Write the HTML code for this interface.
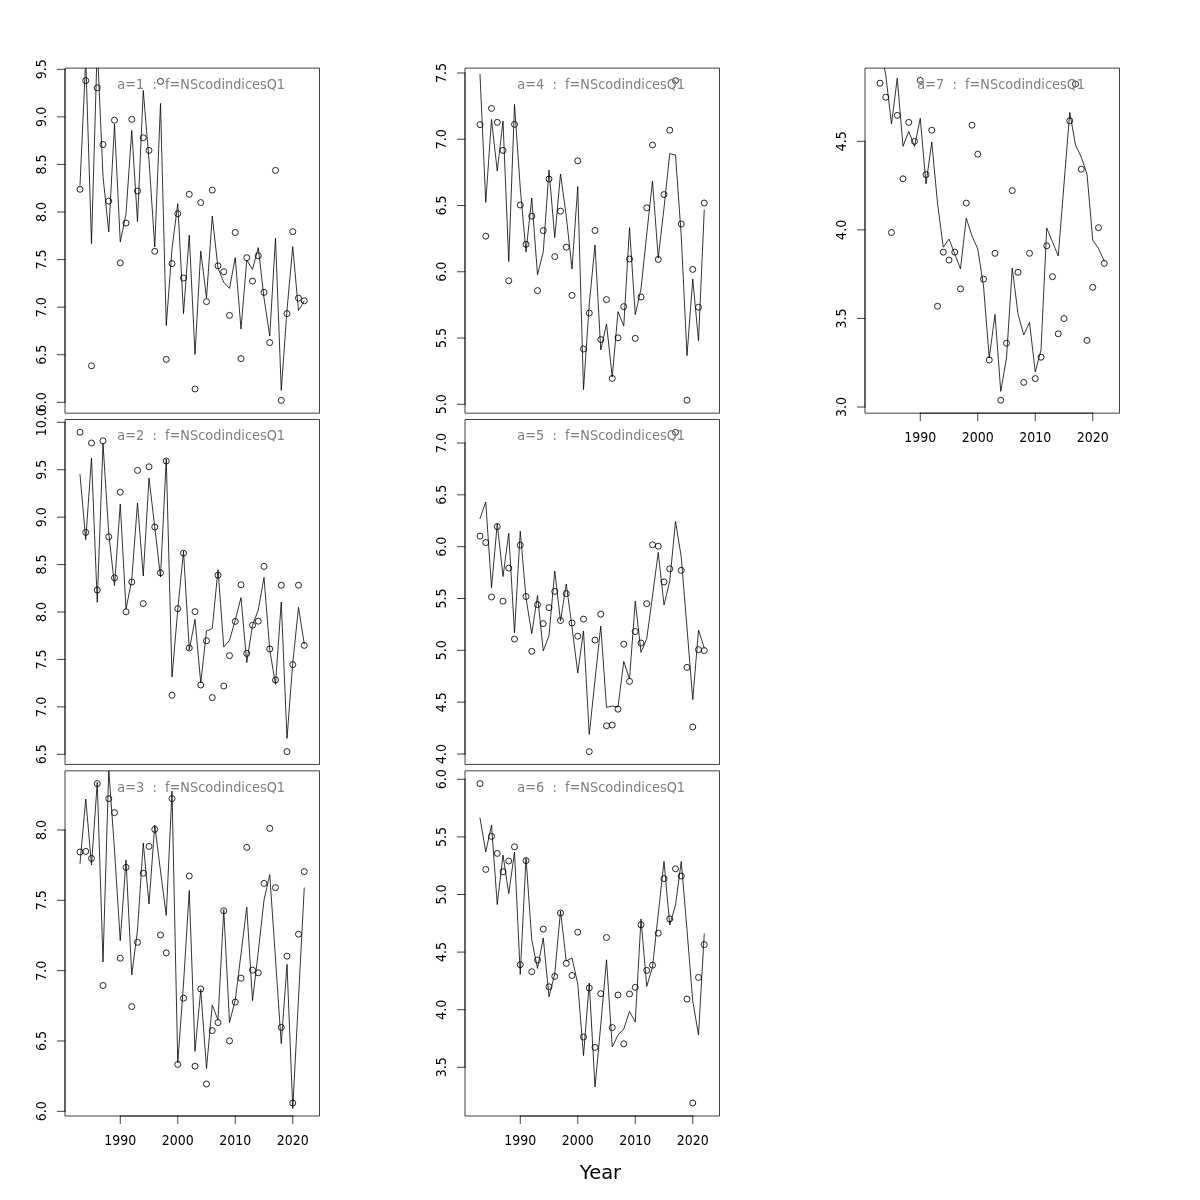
<!DOCTYPE html>
<html lang="en"><head><meta charset="utf-8"><title>NScodindicesQ1</title>
<style>
html,body{margin:0;padding:0;background:#fff}
body{width:1200px;height:1200px;overflow:hidden}
svg{display:block;font-family:"DejaVu Sans","Liberation Sans",sans-serif}
.ln{fill:none;stroke:#000;stroke-width:.8;stroke-linejoin:round;stroke-linecap:round}
.pt{fill:none;stroke:#000;stroke-width:.85}
.box{fill:none;stroke:#000;stroke-width:.75;stroke-linejoin:round}
.ax{fill:none;stroke:#000;stroke-width:.75;stroke-linecap:round}
.tk{font-size:12.6px;fill:#000}
.tt{font-size:12.92px;fill:#7f7f7f;white-space:pre}
.xl{font-size:19.5px;fill:#000}
</style></head><body>
<svg width="1200" height="1200" viewBox="0 0 1200 1200">
<rect width="1200" height="1200" fill="#fff"/>
<clipPath id="c00"><rect x="65" y="68.1" width="254.5" height="345.05"/></clipPath>
<g clip-path="url(#c00)">
<polyline class="ln" points="80,185 85.75,59 91.5,243.5 97.25,45 103,176.6 108.75,232 114.5,124.2 120.25,242 126,214 131.75,130.4 137.5,221.6 143.25,90.4 149,160 154.75,247 160.5,103.4 166.25,325.6 172,249 177.75,203.6 183.5,313.6 189.25,235 195,354.4 200.75,251 206.5,298 212.25,216 218,268 223.75,282.3 229.5,288.4 235.25,257.6 241,329 246.75,260 252.5,269.4 258.25,247.6 264,298 269.75,336 275.5,238 281.25,390.4 287,310 292.75,246.6 298.5,310.6 304.25,301"/>
<circle class="pt" cx="80" cy="189.3" r="3"/>
<circle class="pt" cx="85.75" cy="80.6" r="3"/>
<circle class="pt" cx="91.5" cy="365.8" r="3"/>
<circle class="pt" cx="97.25" cy="87.8" r="3"/>
<circle class="pt" cx="103" cy="144.6" r="3"/>
<circle class="pt" cx="108.75" cy="201.1" r="3"/>
<circle class="pt" cx="114.5" cy="120.2" r="3"/>
<circle class="pt" cx="120.25" cy="262.9" r="3"/>
<circle class="pt" cx="126" cy="223.1" r="3"/>
<circle class="pt" cx="131.75" cy="119.4" r="3"/>
<circle class="pt" cx="137.5" cy="191" r="3"/>
<circle class="pt" cx="143.25" cy="137.8" r="3"/>
<circle class="pt" cx="149" cy="150.4" r="3"/>
<circle class="pt" cx="154.75" cy="251.3" r="3"/>
<circle class="pt" cx="160.5" cy="81.4" r="3"/>
<circle class="pt" cx="166.25" cy="359.4" r="3"/>
<circle class="pt" cx="172" cy="263.6" r="3"/>
<circle class="pt" cx="177.75" cy="213.7" r="3"/>
<circle class="pt" cx="183.5" cy="278" r="3"/>
<circle class="pt" cx="189.25" cy="194.3" r="3"/>
<circle class="pt" cx="195" cy="389" r="3"/>
<circle class="pt" cx="200.75" cy="202.6" r="3"/>
<circle class="pt" cx="206.5" cy="301.6" r="3"/>
<circle class="pt" cx="212.25" cy="190.1" r="3"/>
<circle class="pt" cx="218" cy="265.8" r="3"/>
<circle class="pt" cx="223.75" cy="271.7" r="3"/>
<circle class="pt" cx="229.5" cy="315.4" r="3"/>
<circle class="pt" cx="235.25" cy="232.5" r="3"/>
<circle class="pt" cx="241" cy="358.6" r="3"/>
<circle class="pt" cx="246.75" cy="257.7" r="3"/>
<circle class="pt" cx="252.5" cy="281.1" r="3"/>
<circle class="pt" cx="258.25" cy="255.8" r="3"/>
<circle class="pt" cx="264" cy="292.4" r="3"/>
<circle class="pt" cx="269.75" cy="342.6" r="3"/>
<circle class="pt" cx="275.5" cy="170.4" r="3"/>
<circle class="pt" cx="281.25" cy="400.4" r="3"/>
<circle class="pt" cx="287" cy="313.6" r="3"/>
<circle class="pt" cx="292.75" cy="231.6" r="3"/>
<circle class="pt" cx="298.5" cy="298.1" r="3"/>
<circle class="pt" cx="304.25" cy="300.8" r="3"/>
</g>
<rect class="box" x="65" y="68.1" width="254.5" height="345.05"/>
<path class="ax" d="M65 69.3V402.3"/>
<path class="ax" d="M65 69.3H57.4"/>
<text class="tk" transform="translate(46 69.3) rotate(-90) scale(1 1.118)" text-anchor="middle">9.5</text>
<path class="ax" d="M65 116.87H57.4"/>
<text class="tk" transform="translate(46 116.87) rotate(-90) scale(1 1.118)" text-anchor="middle">9.0</text>
<path class="ax" d="M65 164.44H57.4"/>
<text class="tk" transform="translate(46 164.44) rotate(-90) scale(1 1.118)" text-anchor="middle">8.5</text>
<path class="ax" d="M65 212.01H57.4"/>
<text class="tk" transform="translate(46 212.01) rotate(-90) scale(1 1.118)" text-anchor="middle">8.0</text>
<path class="ax" d="M65 259.59H57.4"/>
<text class="tk" transform="translate(46 259.59) rotate(-90) scale(1 1.118)" text-anchor="middle">7.5</text>
<path class="ax" d="M65 307.16H57.4"/>
<text class="tk" transform="translate(46 307.16) rotate(-90) scale(1 1.118)" text-anchor="middle">7.0</text>
<path class="ax" d="M65 354.73H57.4"/>
<text class="tk" transform="translate(46 354.73) rotate(-90) scale(1 1.118)" text-anchor="middle">6.5</text>
<path class="ax" d="M65 402.3H57.4"/>
<text class="tk" transform="translate(46 402.3) rotate(-90) scale(1 1.118)" text-anchor="middle">6.0</text>
<text class="tt" transform="translate(201.2 89) scale(1 1.09)" text-anchor="middle">a=1  :  f=NScodindicesQ1</text>
<clipPath id="c01"><rect x="65" y="419.5" width="254.5" height="344.95"/></clipPath>
<g clip-path="url(#c01)">
<polyline class="ln" points="80,474.6 85.75,539.6 91.5,458 97.25,602.4 103,443.6 108.75,533.2 114.5,585.6 120.25,504 126,609 131.75,580 137.5,503 143.25,576 149,478 154.75,527 160.5,577 166.25,459 172,677 177.75,610 183.5,551 189.25,650 195,619.4 200.75,683 206.5,631 212.25,628.6 218,569.6 223.75,647 229.5,640.4 235.25,620 241,597.6 246.75,662.6 252.5,625.2 258.25,610 264,577.4 269.75,650 275.5,684.4 281.25,602 287,738.4 292.75,663 298.5,607.4 304.25,644"/>
<circle class="pt" cx="80" cy="432.2" r="3"/>
<circle class="pt" cx="85.75" cy="532.4" r="3"/>
<circle class="pt" cx="91.5" cy="443" r="3"/>
<circle class="pt" cx="97.25" cy="590" r="3"/>
<circle class="pt" cx="103" cy="440.8" r="3"/>
<circle class="pt" cx="108.75" cy="536.8" r="3"/>
<circle class="pt" cx="114.5" cy="577.8" r="3"/>
<circle class="pt" cx="120.25" cy="492.2" r="3"/>
<circle class="pt" cx="126" cy="611.8" r="3"/>
<circle class="pt" cx="131.75" cy="582" r="3"/>
<circle class="pt" cx="137.5" cy="470.4" r="3"/>
<circle class="pt" cx="143.25" cy="603.6" r="3"/>
<circle class="pt" cx="149" cy="466.8" r="3"/>
<circle class="pt" cx="154.75" cy="527" r="3"/>
<circle class="pt" cx="160.5" cy="572.8" r="3"/>
<circle class="pt" cx="166.25" cy="461" r="3"/>
<circle class="pt" cx="172" cy="695.2" r="3"/>
<circle class="pt" cx="177.75" cy="608.7" r="3"/>
<circle class="pt" cx="183.5" cy="553.2" r="3"/>
<circle class="pt" cx="189.25" cy="648" r="3"/>
<circle class="pt" cx="195" cy="611.6" r="3"/>
<circle class="pt" cx="200.75" cy="685" r="3"/>
<circle class="pt" cx="206.5" cy="640.8" r="3"/>
<circle class="pt" cx="212.25" cy="697.6" r="3"/>
<circle class="pt" cx="218" cy="575.2" r="3"/>
<circle class="pt" cx="223.75" cy="686" r="3"/>
<circle class="pt" cx="229.5" cy="655.6" r="3"/>
<circle class="pt" cx="235.25" cy="621.4" r="3"/>
<circle class="pt" cx="241" cy="584.8" r="3"/>
<circle class="pt" cx="246.75" cy="653.4" r="3"/>
<circle class="pt" cx="252.5" cy="625.2" r="3"/>
<circle class="pt" cx="258.25" cy="621.2" r="3"/>
<circle class="pt" cx="264" cy="566.4" r="3"/>
<circle class="pt" cx="269.75" cy="649" r="3"/>
<circle class="pt" cx="275.5" cy="680" r="3"/>
<circle class="pt" cx="281.25" cy="585.2" r="3"/>
<circle class="pt" cx="287" cy="751.6" r="3"/>
<circle class="pt" cx="292.75" cy="664.6" r="3"/>
<circle class="pt" cx="298.5" cy="585.2" r="3"/>
<circle class="pt" cx="304.25" cy="645.4" r="3"/>
</g>
<rect class="box" x="65" y="419.5" width="254.5" height="344.95"/>
<path class="ax" d="M65 422.3V754.3"/>
<path class="ax" d="M65 422.3H57.4"/>
<text class="tk" transform="translate(46 422.3) rotate(-90) scale(1 1.118)" text-anchor="middle">10.0</text>
<path class="ax" d="M65 469.73H57.4"/>
<text class="tk" transform="translate(46 469.73) rotate(-90) scale(1 1.118)" text-anchor="middle">9.5</text>
<path class="ax" d="M65 517.16H57.4"/>
<text class="tk" transform="translate(46 517.16) rotate(-90) scale(1 1.118)" text-anchor="middle">9.0</text>
<path class="ax" d="M65 564.59H57.4"/>
<text class="tk" transform="translate(46 564.59) rotate(-90) scale(1 1.118)" text-anchor="middle">8.5</text>
<path class="ax" d="M65 612.01H57.4"/>
<text class="tk" transform="translate(46 612.01) rotate(-90) scale(1 1.118)" text-anchor="middle">8.0</text>
<path class="ax" d="M65 659.44H57.4"/>
<text class="tk" transform="translate(46 659.44) rotate(-90) scale(1 1.118)" text-anchor="middle">7.5</text>
<path class="ax" d="M65 706.87H57.4"/>
<text class="tk" transform="translate(46 706.87) rotate(-90) scale(1 1.118)" text-anchor="middle">7.0</text>
<path class="ax" d="M65 754.3H57.4"/>
<text class="tk" transform="translate(46 754.3) rotate(-90) scale(1 1.118)" text-anchor="middle">6.5</text>
<text class="tt" transform="translate(201.2 439.9) scale(1 1.09)" text-anchor="middle">a=2  :  f=NScodindicesQ1</text>
<clipPath id="c02"><rect x="65" y="770.85" width="254.5" height="345.15"/></clipPath>
<g clip-path="url(#c02)">
<polyline class="ln" points="80,863.4 85.75,799 91.5,865 97.25,782.4 103,962 108.75,769.5 114.5,850 120.25,940.6 126,860 131.75,975 137.5,930 143.25,843 149,904 154.75,825 160.5,871 166.25,915.4 172,791 177.75,1063 183.5,984 189.25,890.4 195,1051.4 200.75,989.5 206.5,1068.4 212.25,1005 218,1020 223.75,909.6 229.5,1022.6 235.25,1000 241,954 246.75,907.2 252.5,1000.6 258.25,952 264,900 269.75,874.6 275.5,959 281.25,1043.6 287,964.4 292.75,1108.4 298.5,998 304.25,888"/>
<circle class="pt" cx="80" cy="852" r="3"/>
<circle class="pt" cx="85.75" cy="851.4" r="3"/>
<circle class="pt" cx="91.5" cy="858.4" r="3"/>
<circle class="pt" cx="97.25" cy="783.6" r="3"/>
<circle class="pt" cx="103" cy="985.5" r="3"/>
<circle class="pt" cx="108.75" cy="798.6" r="3"/>
<circle class="pt" cx="114.5" cy="812.6" r="3"/>
<circle class="pt" cx="120.25" cy="958.2" r="3"/>
<circle class="pt" cx="126" cy="867.4" r="3"/>
<circle class="pt" cx="131.75" cy="1006.6" r="3"/>
<circle class="pt" cx="137.5" cy="942.3" r="3"/>
<circle class="pt" cx="143.25" cy="873.2" r="3"/>
<circle class="pt" cx="149" cy="846.4" r="3"/>
<circle class="pt" cx="154.75" cy="829.4" r="3"/>
<circle class="pt" cx="160.5" cy="935" r="3"/>
<circle class="pt" cx="166.25" cy="952.9" r="3"/>
<circle class="pt" cx="172" cy="798.6" r="3"/>
<circle class="pt" cx="177.75" cy="1064.4" r="3"/>
<circle class="pt" cx="183.5" cy="998.2" r="3"/>
<circle class="pt" cx="189.25" cy="876" r="3"/>
<circle class="pt" cx="195" cy="1066.2" r="3"/>
<circle class="pt" cx="200.75" cy="989" r="3"/>
<circle class="pt" cx="206.5" cy="1084" r="3"/>
<circle class="pt" cx="212.25" cy="1030.6" r="3"/>
<circle class="pt" cx="218" cy="1022.6" r="3"/>
<circle class="pt" cx="223.75" cy="910.8" r="3"/>
<circle class="pt" cx="229.5" cy="1040.8" r="3"/>
<circle class="pt" cx="235.25" cy="1002.1" r="3"/>
<circle class="pt" cx="241" cy="978.2" r="3"/>
<circle class="pt" cx="246.75" cy="847.4" r="3"/>
<circle class="pt" cx="252.5" cy="970.2" r="3"/>
<circle class="pt" cx="258.25" cy="972.8" r="3"/>
<circle class="pt" cx="264" cy="883.4" r="3"/>
<circle class="pt" cx="269.75" cy="828.4" r="3"/>
<circle class="pt" cx="275.5" cy="887.6" r="3"/>
<circle class="pt" cx="281.25" cy="1027.4" r="3"/>
<circle class="pt" cx="287" cy="956.2" r="3"/>
<circle class="pt" cx="292.75" cy="1103" r="3"/>
<circle class="pt" cx="298.5" cy="934.2" r="3"/>
<circle class="pt" cx="304.25" cy="871.6" r="3"/>
</g>
<rect class="box" x="65" y="770.85" width="254.5" height="345.15"/>
<path class="ax" d="M65 830V1111.3"/>
<path class="ax" d="M65 830H57.4"/>
<text class="tk" transform="translate(46 830) rotate(-90) scale(1 1.118)" text-anchor="middle">8.0</text>
<path class="ax" d="M65 900.33H57.4"/>
<text class="tk" transform="translate(46 900.33) rotate(-90) scale(1 1.118)" text-anchor="middle">7.5</text>
<path class="ax" d="M65 970.65H57.4"/>
<text class="tk" transform="translate(46 970.65) rotate(-90) scale(1 1.118)" text-anchor="middle">7.0</text>
<path class="ax" d="M65 1040.97H57.4"/>
<text class="tk" transform="translate(46 1040.97) rotate(-90) scale(1 1.118)" text-anchor="middle">6.5</text>
<path class="ax" d="M65 1111.3H57.4"/>
<text class="tk" transform="translate(46 1111.3) rotate(-90) scale(1 1.118)" text-anchor="middle">6.0</text>
<path class="ax" d="M120.25 1116H292.75"/>
<path class="ax" d="M120.25 1116V1123.6"/>
<text class="tk" transform="translate(120.25 1145) scale(1 1.118)" text-anchor="middle">1990</text>
<path class="ax" d="M177.75 1116V1123.6"/>
<text class="tk" transform="translate(177.75 1145) scale(1 1.118)" text-anchor="middle">2000</text>
<path class="ax" d="M235.25 1116V1123.6"/>
<text class="tk" transform="translate(235.25 1145) scale(1 1.118)" text-anchor="middle">2010</text>
<path class="ax" d="M292.75 1116V1123.6"/>
<text class="tk" transform="translate(292.75 1145) scale(1 1.118)" text-anchor="middle">2020</text>
<text class="tt" transform="translate(201.2 792) scale(1 1.09)" text-anchor="middle">a=3  :  f=NScodindicesQ1</text>
<clipPath id="c10"><rect x="465" y="68.1" width="254.5" height="345.05"/></clipPath>
<g clip-path="url(#c10)">
<polyline class="ln" points="480,74.4 485.75,202.4 491.5,119.4 497.25,171 503,121 508.75,261.6 514.5,104.4 520.25,188 526,252 531.75,198 537.5,274.8 543.25,252 549,170 554.75,237.6 560.5,174 566.25,216 572,269 577.75,186.4 583.5,389.6 589.25,304 595,245 600.75,350 606.5,324 612.25,377 618,311.6 623.75,326 629.5,227.6 635.25,314.6 641,289 646.75,234 652.5,181 658.25,258 664,208 669.75,153.6 675.5,155 681.25,236 687,355.6 692.75,279 698.5,340.6 704.25,210"/>
<circle class="pt" cx="480" cy="124.6" r="3"/>
<circle class="pt" cx="485.75" cy="236.2" r="3"/>
<circle class="pt" cx="491.5" cy="108.4" r="3"/>
<circle class="pt" cx="497.25" cy="122.4" r="3"/>
<circle class="pt" cx="503" cy="150.4" r="3"/>
<circle class="pt" cx="508.75" cy="280.8" r="3"/>
<circle class="pt" cx="514.5" cy="124.4" r="3"/>
<circle class="pt" cx="520.25" cy="205" r="3"/>
<circle class="pt" cx="526" cy="244.3" r="3"/>
<circle class="pt" cx="531.75" cy="216.2" r="3"/>
<circle class="pt" cx="537.5" cy="290.6" r="3"/>
<circle class="pt" cx="543.25" cy="230.6" r="3"/>
<circle class="pt" cx="549" cy="179" r="3"/>
<circle class="pt" cx="554.75" cy="256.6" r="3"/>
<circle class="pt" cx="560.5" cy="211.2" r="3"/>
<circle class="pt" cx="566.25" cy="247.2" r="3"/>
<circle class="pt" cx="572" cy="295.4" r="3"/>
<circle class="pt" cx="577.75" cy="160.8" r="3"/>
<circle class="pt" cx="583.5" cy="349" r="3"/>
<circle class="pt" cx="589.25" cy="313" r="3"/>
<circle class="pt" cx="595" cy="230.5" r="3"/>
<circle class="pt" cx="600.75" cy="339.6" r="3"/>
<circle class="pt" cx="606.5" cy="299.6" r="3"/>
<circle class="pt" cx="612.25" cy="378.4" r="3"/>
<circle class="pt" cx="618" cy="337.8" r="3"/>
<circle class="pt" cx="623.75" cy="306.6" r="3"/>
<circle class="pt" cx="629.5" cy="259" r="3"/>
<circle class="pt" cx="635.25" cy="338.4" r="3"/>
<circle class="pt" cx="641" cy="297" r="3"/>
<circle class="pt" cx="646.75" cy="207.8" r="3"/>
<circle class="pt" cx="652.5" cy="145" r="3"/>
<circle class="pt" cx="658.25" cy="259.4" r="3"/>
<circle class="pt" cx="664" cy="194.6" r="3"/>
<circle class="pt" cx="669.75" cy="130.2" r="3"/>
<circle class="pt" cx="675.5" cy="80.6" r="3"/>
<circle class="pt" cx="681.25" cy="224" r="3"/>
<circle class="pt" cx="687" cy="400.2" r="3"/>
<circle class="pt" cx="692.75" cy="269.4" r="3"/>
<circle class="pt" cx="698.5" cy="307.2" r="3"/>
<circle class="pt" cx="704.25" cy="203" r="3"/>
</g>
<rect class="box" x="465" y="68.1" width="254.5" height="345.05"/>
<path class="ax" d="M465 73V404.3"/>
<path class="ax" d="M465 73H457.4"/>
<text class="tk" transform="translate(446 73) rotate(-90) scale(1 1.118)" text-anchor="middle">7.5</text>
<path class="ax" d="M465 139.26H457.4"/>
<text class="tk" transform="translate(446 139.26) rotate(-90) scale(1 1.118)" text-anchor="middle">7.0</text>
<path class="ax" d="M465 205.52H457.4"/>
<text class="tk" transform="translate(446 205.52) rotate(-90) scale(1 1.118)" text-anchor="middle">6.5</text>
<path class="ax" d="M465 271.78H457.4"/>
<text class="tk" transform="translate(446 271.78) rotate(-90) scale(1 1.118)" text-anchor="middle">6.0</text>
<path class="ax" d="M465 338.04H457.4"/>
<text class="tk" transform="translate(446 338.04) rotate(-90) scale(1 1.118)" text-anchor="middle">5.5</text>
<path class="ax" d="M465 404.3H457.4"/>
<text class="tk" transform="translate(446 404.3) rotate(-90) scale(1 1.118)" text-anchor="middle">5.0</text>
<text class="tt" transform="translate(601.2 89) scale(1 1.09)" text-anchor="middle">a=4  :  f=NScodindicesQ1</text>
<clipPath id="c11"><rect x="465" y="419.5" width="254.5" height="344.95"/></clipPath>
<g clip-path="url(#c11)">
<polyline class="ln" points="480,518.6 485.75,502 491.5,587.6 497.25,523.6 503,576.6 508.75,533.2 514.5,633 520.25,531.2 526,598 531.75,633.6 537.5,595.5 543.25,650.9 549,635.5 554.75,571 560.5,621 566.25,584 572,627 577.75,673 583.5,631 589.25,734.4 595,680 600.75,626 606.5,707.4 612.25,706 618,707 623.75,661.4 629.5,679 635.25,601 641,652.4 646.75,638.6 652.5,596 658.25,552.4 664,605 669.75,581 675.5,521.4 681.25,557 687,628 692.75,699.6 698.5,630 704.25,648"/>
<circle class="pt" cx="480" cy="536.1" r="3"/>
<circle class="pt" cx="485.75" cy="542.6" r="3"/>
<circle class="pt" cx="491.5" cy="597" r="3"/>
<circle class="pt" cx="497.25" cy="526.6" r="3"/>
<circle class="pt" cx="503" cy="601.2" r="3"/>
<circle class="pt" cx="508.75" cy="568.1" r="3"/>
<circle class="pt" cx="514.5" cy="639.1" r="3"/>
<circle class="pt" cx="520.25" cy="545.1" r="3"/>
<circle class="pt" cx="526" cy="596.5" r="3"/>
<circle class="pt" cx="531.75" cy="651.3" r="3"/>
<circle class="pt" cx="537.5" cy="604.6" r="3"/>
<circle class="pt" cx="543.25" cy="623.6" r="3"/>
<circle class="pt" cx="549" cy="607.6" r="3"/>
<circle class="pt" cx="554.75" cy="591.4" r="3"/>
<circle class="pt" cx="560.5" cy="620.5" r="3"/>
<circle class="pt" cx="566.25" cy="593.6" r="3"/>
<circle class="pt" cx="572" cy="623" r="3"/>
<circle class="pt" cx="577.75" cy="636.2" r="3"/>
<circle class="pt" cx="583.5" cy="619.1" r="3"/>
<circle class="pt" cx="589.25" cy="751.6" r="3"/>
<circle class="pt" cx="595" cy="640.1" r="3"/>
<circle class="pt" cx="600.75" cy="614.2" r="3"/>
<circle class="pt" cx="606.5" cy="725.8" r="3"/>
<circle class="pt" cx="612.25" cy="725" r="3"/>
<circle class="pt" cx="618" cy="709.2" r="3"/>
<circle class="pt" cx="623.75" cy="644.2" r="3"/>
<circle class="pt" cx="629.5" cy="681.4" r="3"/>
<circle class="pt" cx="635.25" cy="631.5" r="3"/>
<circle class="pt" cx="641" cy="643" r="3"/>
<circle class="pt" cx="646.75" cy="603.7" r="3"/>
<circle class="pt" cx="652.5" cy="544.8" r="3"/>
<circle class="pt" cx="658.25" cy="546.2" r="3"/>
<circle class="pt" cx="664" cy="581.9" r="3"/>
<circle class="pt" cx="669.75" cy="568.8" r="3"/>
<circle class="pt" cx="675.5" cy="432.4" r="3"/>
<circle class="pt" cx="681.25" cy="570.3" r="3"/>
<circle class="pt" cx="687" cy="667.4" r="3"/>
<circle class="pt" cx="692.75" cy="727" r="3"/>
<circle class="pt" cx="698.5" cy="649.6" r="3"/>
<circle class="pt" cx="704.25" cy="650.6" r="3"/>
</g>
<rect class="box" x="465" y="419.5" width="254.5" height="344.95"/>
<path class="ax" d="M465 443V754"/>
<path class="ax" d="M465 443H457.4"/>
<text class="tk" transform="translate(446 443) rotate(-90) scale(1 1.118)" text-anchor="middle">7.0</text>
<path class="ax" d="M465 494.83H457.4"/>
<text class="tk" transform="translate(446 494.83) rotate(-90) scale(1 1.118)" text-anchor="middle">6.5</text>
<path class="ax" d="M465 546.67H457.4"/>
<text class="tk" transform="translate(446 546.67) rotate(-90) scale(1 1.118)" text-anchor="middle">6.0</text>
<path class="ax" d="M465 598.5H457.4"/>
<text class="tk" transform="translate(446 598.5) rotate(-90) scale(1 1.118)" text-anchor="middle">5.5</text>
<path class="ax" d="M465 650.33H457.4"/>
<text class="tk" transform="translate(446 650.33) rotate(-90) scale(1 1.118)" text-anchor="middle">5.0</text>
<path class="ax" d="M465 702.17H457.4"/>
<text class="tk" transform="translate(446 702.17) rotate(-90) scale(1 1.118)" text-anchor="middle">4.5</text>
<path class="ax" d="M465 754H457.4"/>
<text class="tk" transform="translate(446 754) rotate(-90) scale(1 1.118)" text-anchor="middle">4.0</text>
<text class="tt" transform="translate(601.2 439.9) scale(1 1.09)" text-anchor="middle">a=5  :  f=NScodindicesQ1</text>
<clipPath id="c12"><rect x="465" y="770.85" width="254.5" height="345.15"/></clipPath>
<g clip-path="url(#c12)">
<polyline class="ln" points="480,818 485.75,852 491.5,825 497.25,904.6 503,855 508.75,893.6 514.5,852 520.25,974.4 526,858 531.75,940 537.5,968.4 543.25,938 549,996.8 554.75,974 560.5,911 566.25,961 572,958 577.75,984 583.5,1055.6 589.25,983 595,1087 600.75,1025 606.5,959.8 612.25,1047 618,1035 623.75,1029 629.5,1011.4 635.25,1022 641,919 646.75,986.4 652.5,967 658.25,914 664,861.4 669.75,925 675.5,905 681.25,861.4 687,930 692.75,1001 698.5,1035 704.25,934"/>
<circle class="pt" cx="480" cy="783.6" r="3"/>
<circle class="pt" cx="485.75" cy="869.4" r="3"/>
<circle class="pt" cx="491.5" cy="836.4" r="3"/>
<circle class="pt" cx="497.25" cy="853.4" r="3"/>
<circle class="pt" cx="503" cy="871.8" r="3"/>
<circle class="pt" cx="508.75" cy="861" r="3"/>
<circle class="pt" cx="514.5" cy="846.8" r="3"/>
<circle class="pt" cx="520.25" cy="964.7" r="3"/>
<circle class="pt" cx="526" cy="860.6" r="3"/>
<circle class="pt" cx="531.75" cy="971.7" r="3"/>
<circle class="pt" cx="537.5" cy="960" r="3"/>
<circle class="pt" cx="543.25" cy="929.1" r="3"/>
<circle class="pt" cx="549" cy="986.8" r="3"/>
<circle class="pt" cx="554.75" cy="976.4" r="3"/>
<circle class="pt" cx="560.5" cy="913" r="3"/>
<circle class="pt" cx="566.25" cy="963.4" r="3"/>
<circle class="pt" cx="572" cy="975.5" r="3"/>
<circle class="pt" cx="577.75" cy="932.2" r="3"/>
<circle class="pt" cx="583.5" cy="1037" r="3"/>
<circle class="pt" cx="589.25" cy="988" r="3"/>
<circle class="pt" cx="595" cy="1047.4" r="3"/>
<circle class="pt" cx="600.75" cy="993.7" r="3"/>
<circle class="pt" cx="606.5" cy="937.5" r="3"/>
<circle class="pt" cx="612.25" cy="1027.6" r="3"/>
<circle class="pt" cx="618" cy="995" r="3"/>
<circle class="pt" cx="623.75" cy="1043.8" r="3"/>
<circle class="pt" cx="629.5" cy="994" r="3"/>
<circle class="pt" cx="635.25" cy="987.3" r="3"/>
<circle class="pt" cx="641" cy="924.8" r="3"/>
<circle class="pt" cx="646.75" cy="970.4" r="3"/>
<circle class="pt" cx="652.5" cy="965.2" r="3"/>
<circle class="pt" cx="658.25" cy="933.2" r="3"/>
<circle class="pt" cx="664" cy="878.6" r="3"/>
<circle class="pt" cx="669.75" cy="918.9" r="3"/>
<circle class="pt" cx="675.5" cy="868.8" r="3"/>
<circle class="pt" cx="681.25" cy="876" r="3"/>
<circle class="pt" cx="687" cy="999.1" r="3"/>
<circle class="pt" cx="692.75" cy="1103" r="3"/>
<circle class="pt" cx="698.5" cy="977.4" r="3"/>
<circle class="pt" cx="704.25" cy="944.6" r="3"/>
</g>
<rect class="box" x="465" y="770.85" width="254.5" height="345.15"/>
<path class="ax" d="M465 779.3V1067.3"/>
<path class="ax" d="M465 779.3H457.4"/>
<text class="tk" transform="translate(446 779.3) rotate(-90) scale(1 1.118)" text-anchor="middle">6.0</text>
<path class="ax" d="M465 836.9H457.4"/>
<text class="tk" transform="translate(446 836.9) rotate(-90) scale(1 1.118)" text-anchor="middle">5.5</text>
<path class="ax" d="M465 894.5H457.4"/>
<text class="tk" transform="translate(446 894.5) rotate(-90) scale(1 1.118)" text-anchor="middle">5.0</text>
<path class="ax" d="M465 952.1H457.4"/>
<text class="tk" transform="translate(446 952.1) rotate(-90) scale(1 1.118)" text-anchor="middle">4.5</text>
<path class="ax" d="M465 1009.7H457.4"/>
<text class="tk" transform="translate(446 1009.7) rotate(-90) scale(1 1.118)" text-anchor="middle">4.0</text>
<path class="ax" d="M465 1067.3H457.4"/>
<text class="tk" transform="translate(446 1067.3) rotate(-90) scale(1 1.118)" text-anchor="middle">3.5</text>
<path class="ax" d="M520.25 1116H692.75"/>
<path class="ax" d="M520.25 1116V1123.6"/>
<text class="tk" transform="translate(520.25 1145) scale(1 1.118)" text-anchor="middle">1990</text>
<path class="ax" d="M577.75 1116V1123.6"/>
<text class="tk" transform="translate(577.75 1145) scale(1 1.118)" text-anchor="middle">2000</text>
<path class="ax" d="M635.25 1116V1123.6"/>
<text class="tk" transform="translate(635.25 1145) scale(1 1.118)" text-anchor="middle">2010</text>
<path class="ax" d="M692.75 1116V1123.6"/>
<text class="tk" transform="translate(692.75 1145) scale(1 1.118)" text-anchor="middle">2020</text>
<text class="tt" transform="translate(601.2 792) scale(1 1.09)" text-anchor="middle">a=6  :  f=NScodindicesQ1</text>
<clipPath id="c20"><rect x="865" y="68.1" width="254.5" height="345.05"/></clipPath>
<g clip-path="url(#c20)">
<polyline class="ln" points="880,45 885.75,75 891.5,124 897.25,78.2 903,146.4 908.75,131.4 914.5,146.4 920.25,118.4 926,184 931.75,142 937.5,203 943.25,247.2 949,239 954.75,254 960.5,268.8 966.25,218.2 972,236 977.75,249 983.5,286 989.25,358 995,314.4 1000.75,391.4 1006.5,358 1012.25,268 1018,314 1023.75,335 1029.5,322.4 1035.25,372 1041,350 1046.75,228 1052.5,242 1058.25,256 1064,184 1069.75,112.4 1075.5,145 1081.25,157 1087,174 1092.75,240 1098.5,248.5 1104.25,261"/>
<circle class="pt" cx="880" cy="83.2" r="3"/>
<circle class="pt" cx="885.75" cy="97.2" r="3"/>
<circle class="pt" cx="891.5" cy="232.5" r="3"/>
<circle class="pt" cx="897.25" cy="115.4" r="3"/>
<circle class="pt" cx="903" cy="178.8" r="3"/>
<circle class="pt" cx="908.75" cy="122.4" r="3"/>
<circle class="pt" cx="914.5" cy="141.4" r="3"/>
<circle class="pt" cx="920.25" cy="80.4" r="3"/>
<circle class="pt" cx="926" cy="174.6" r="3"/>
<circle class="pt" cx="931.75" cy="130.2" r="3"/>
<circle class="pt" cx="937.5" cy="306.2" r="3"/>
<circle class="pt" cx="943.25" cy="252.2" r="3"/>
<circle class="pt" cx="949" cy="260.1" r="3"/>
<circle class="pt" cx="954.75" cy="252.1" r="3"/>
<circle class="pt" cx="960.5" cy="288.9" r="3"/>
<circle class="pt" cx="966.25" cy="203.1" r="3"/>
<circle class="pt" cx="972" cy="125.2" r="3"/>
<circle class="pt" cx="977.75" cy="154.2" r="3"/>
<circle class="pt" cx="983.5" cy="279.1" r="3"/>
<circle class="pt" cx="989.25" cy="360" r="3"/>
<circle class="pt" cx="995" cy="253.3" r="3"/>
<circle class="pt" cx="1000.75" cy="400.2" r="3"/>
<circle class="pt" cx="1006.5" cy="343.2" r="3"/>
<circle class="pt" cx="1012.25" cy="190.6" r="3"/>
<circle class="pt" cx="1018" cy="272.3" r="3"/>
<circle class="pt" cx="1023.75" cy="382.4" r="3"/>
<circle class="pt" cx="1029.5" cy="253.3" r="3"/>
<circle class="pt" cx="1035.25" cy="378.6" r="3"/>
<circle class="pt" cx="1041" cy="357.2" r="3"/>
<circle class="pt" cx="1046.75" cy="245.8" r="3"/>
<circle class="pt" cx="1052.5" cy="276.7" r="3"/>
<circle class="pt" cx="1058.25" cy="333.8" r="3"/>
<circle class="pt" cx="1064" cy="318.6" r="3"/>
<circle class="pt" cx="1069.75" cy="120.8" r="3"/>
<circle class="pt" cx="1075.5" cy="84" r="3"/>
<circle class="pt" cx="1081.25" cy="169.2" r="3"/>
<circle class="pt" cx="1087" cy="340.4" r="3"/>
<circle class="pt" cx="1092.75" cy="287.3" r="3"/>
<circle class="pt" cx="1098.5" cy="227.7" r="3"/>
<circle class="pt" cx="1104.25" cy="263.4" r="3"/>
</g>
<rect class="box" x="865" y="68.1" width="254.5" height="345.05"/>
<path class="ax" d="M865 141.3V407"/>
<path class="ax" d="M865 141.3H857.4"/>
<text class="tk" transform="translate(846 141.3) rotate(-90) scale(1 1.118)" text-anchor="middle">4.5</text>
<path class="ax" d="M865 229.87H857.4"/>
<text class="tk" transform="translate(846 229.87) rotate(-90) scale(1 1.118)" text-anchor="middle">4.0</text>
<path class="ax" d="M865 318.43H857.4"/>
<text class="tk" transform="translate(846 318.43) rotate(-90) scale(1 1.118)" text-anchor="middle">3.5</text>
<path class="ax" d="M865 407H857.4"/>
<text class="tk" transform="translate(846 407) rotate(-90) scale(1 1.118)" text-anchor="middle">3.0</text>
<path class="ax" d="M920.25 413.15H1092.75"/>
<path class="ax" d="M920.25 413.15V420.75"/>
<text class="tk" transform="translate(920.25 442.15) scale(1 1.118)" text-anchor="middle">1990</text>
<path class="ax" d="M977.75 413.15V420.75"/>
<text class="tk" transform="translate(977.75 442.15) scale(1 1.118)" text-anchor="middle">2000</text>
<path class="ax" d="M1035.25 413.15V420.75"/>
<text class="tk" transform="translate(1035.25 442.15) scale(1 1.118)" text-anchor="middle">2010</text>
<path class="ax" d="M1092.75 413.15V420.75"/>
<text class="tk" transform="translate(1092.75 442.15) scale(1 1.118)" text-anchor="middle">2020</text>
<text class="tt" transform="translate(1001.2 89) scale(1 1.09)" text-anchor="middle">a=7  :  f=NScodindicesQ1</text>
<text class="xl" x="600.5" y="1178.6" text-anchor="middle">Year</text>
</svg>
</body></html>
